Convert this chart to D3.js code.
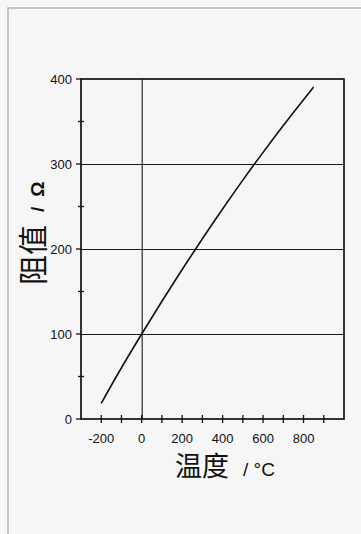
<!DOCTYPE html>
<html>
<head>
<meta charset="utf-8">
<script src="https://cdn.jsdelivr.net/npm/d3@7"></script>
<style>
  body { margin: 0; background: #f6f6f6; }
  svg { display: block; }
</style>
</head>
<body>
<div id="chart"></div>
<script>
// Pt100 resistance vs temperature
const temps = [-200, -100, 0, 100, 200, 300, 400, 500, 600, 700, 800, 850];
const ohms = [18.5, 60.3, 100, 138.5, 175.9, 212.1, 247.1, 281.0, 313.7, 345.3, 375.7, 390.5];
const xTicks = [-200, -100, 0, 100, 200, 300, 400, 500, 600, 700, 800, 900];
const xLabels = [-200, 0, 200, 400, 600, 800];
const yTicks = [0, 50, 100, 150, 200, 250, 300, 350, 400];
const yLabels = [0, 100, 200, 300, 400];
const yGrid = [100, 200, 300];
const xGrid = [0];

const width = 361, height = 534;
const mLeft = 81, mRight = 344, mTop = 79, mBottom = 419;

const svg = d3.select("#chart").append("svg")
  .attr("width", width)
  .attr("height", height);

svg.append("rect")
  .attr("width", width).attr("height", height)
  .attr("fill", "#f6f6f6");

// scanned page frame
svg.append("path")
  .attr("d", "M8," + height + "V8H" + width)
  .attr("fill", "none")
  .attr("stroke", "#b4b4b4")
  .attr("stroke-width", 1.5);

const x = d3.scaleLinear().domain([-300, 1000]).range([mLeft, mRight]);
const y = d3.scaleLinear().domain([0, 400]).range([mBottom, mTop]);

// grid (half-pixel offset keeps the 1px lines sharp)
svg.selectAll(".hgrid").data(yGrid).enter().append("line")
  .attr("x1", mLeft).attr("x2", mRight)
  .attr("y1", d => y(d) + 0.5).attr("y2", d => y(d) + 0.5)
  .attr("stroke", "#1a1a1a").attr("stroke-width", 1.1);

svg.selectAll(".vgrid").data(xGrid).enter().append("line")
  .attr("x1", d => x(d) + 0.5).attr("x2", d => x(d) + 0.5)
  .attr("y1", mTop).attr("y2", mBottom)
  .attr("stroke", "#1a1a1a").attr("stroke-width", 1.1);

// frame
svg.append("rect")
  .attr("x", mLeft).attr("y", mTop)
  .attr("width", mRight - mLeft).attr("height", mBottom - mTop)
  .attr("fill", "none")
  .attr("stroke", "#111").attr("stroke-width", 1.7);

// x axis ticks (crossing)
const xAxis = svg.append("g");
xAxis.selectAll("line").data(xTicks).enter().append("line")
  .attr("x1", d => x(d)).attr("x2", d => x(d))
  .attr("y1", mBottom - 4).attr("y2", mBottom + 4)
  .attr("stroke", "#111").attr("stroke-width", 1.3);
xAxis.selectAll("text").data(xLabels).enter().append("text")
  .attr("x", d => x(d))
  .attr("y", mBottom + 24)
  .attr("text-anchor", "middle")
  .attr("font-family", "Liberation Sans, Arial, sans-serif")
  .attr("font-size", 13)
  .attr("fill", "#111")
  .text(d => d);

// y axis ticks
const yAxis = svg.append("g");
yAxis.selectAll("line").data(yTicks).enter().append("line")
  .attr("x1", d => yLabels.includes(d) ? mLeft - 5 : mLeft - 3)
  .attr("x2", d => yLabels.includes(d) ? mLeft : mLeft + 3)
  .attr("y1", d => y(d)).attr("y2", d => y(d))
  .attr("stroke", "#111").attr("stroke-width", 1.3);
yAxis.selectAll("text").data(yLabels).enter().append("text")
  .attr("x", mLeft - 9)
  .attr("y", d => y(d) + 5)
  .attr("text-anchor", "end")
  .attr("font-family", "Liberation Sans, Arial, sans-serif")
  .attr("font-size", 13)
  .attr("fill", "#111")
  .text(d => d);

// curve
const line = d3.line()
  .x((d, i) => x(temps[i]))
  .y(d => y(d))
  .curve(d3.curveMonotoneX);

svg.append("path")
  .datum(ohms)
  .attr("d", line)
  .attr("fill", "none")
  .attr("stroke", "#111")
  .attr("stroke-width", 1.6);

// axis titles
const xt = svg.append("text")
  .attr("x", 175).attr("y", 476)
  .attr("fill", "#111");
xt.append("tspan")
  .attr("font-family", "Noto Sans CJK SC")
  .attr("font-size", 27)
  .text("温度");
xt.append("tspan")
  .attr("dx", 14)
  .attr("font-family", "Liberation Sans, Arial, sans-serif")
  .attr("font-size", 19)
  .text("/ °C");

const yt = svg.append("text")
  .attr("transform", "translate(44,285) rotate(-90)")
  .attr("fill", "#111");
yt.append("tspan")
  .attr("font-family", "Noto Sans CJK SC")
  .attr("font-size", 30)
  .text("阻值");
yt.append("tspan")
  .attr("dx", 13)
  .attr("font-family", "Liberation Sans, Arial, sans-serif")
  .attr("font-size", 19)
  .attr("font-weight", "bold")
  .text("/");
yt.append("tspan")
  .attr("dx", 10)
  .attr("font-family", "Liberation Sans, Arial, sans-serif")
  .attr("font-size", 19)
  .attr("font-weight", "bold")
  .text("Ω");
</script>
</body>
</html>
